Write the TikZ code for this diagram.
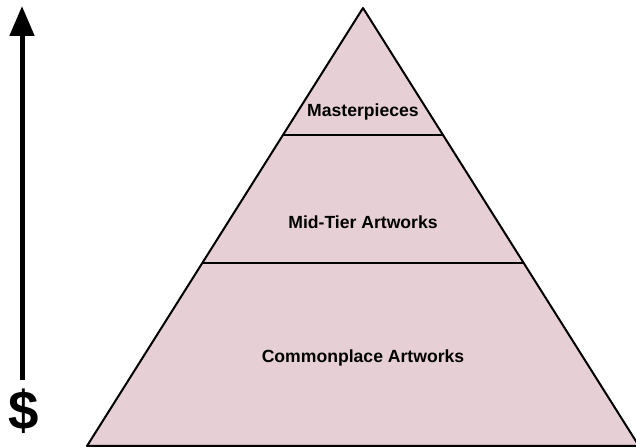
\documentclass[tikz,border=0pt]{standalone}
\usepackage{fontspec}
\setmainfont{Liberation Sans}
\usetikzlibrary{arrows.meta}

\definecolor{tierpink}{RGB}{230,208,213}

\begin{document}
\begin{tikzpicture}[
  x=0.75pt, y=-0.75pt,
  line cap=round,
  line join=round,
  tier/.style={font=\bfseries\fontsize{13.2}{15}\selectfont},
  edge/.style={line width=1.5pt}
]
\useasboundingbox (0,0) rectangle (636,448);

% Pyramid: apex (363,8), base from (87,446) to (639,446)
\fill[tierpink] (87,446) -- (363,8) -- (639,446) -- cycle;
\draw[edge] (87,446) -- (363,8) -- (639,446) -- cycle;

% dividing lines between the tiers
\draw[edge] (283,135) -- (443,135);
\draw[edge] (203,263) -- (523,263);

% tier labels
\node[tier] (top)    at (363,112) {Masterpieces};
\node[tier] (middle) at (363,222) {Mid-Tier Artworks};
\node[tier] (bottom) at (363,358) {Commonplace Artworks};

% price axis
\node[font=\bfseries\fontsize{41}{44}\selectfont, inner sep=0pt] (dollar) at (24,411) {\$};
\coordinate (peak) at (22,6);
\draw[line width=3.75pt, line cap=butt, shorten <=6pt,
  -{Triangle[length=22.5pt, width=18pt]}]
  (dollar.north -| peak) -- (peak);

\end{tikzpicture}
\end{document}
